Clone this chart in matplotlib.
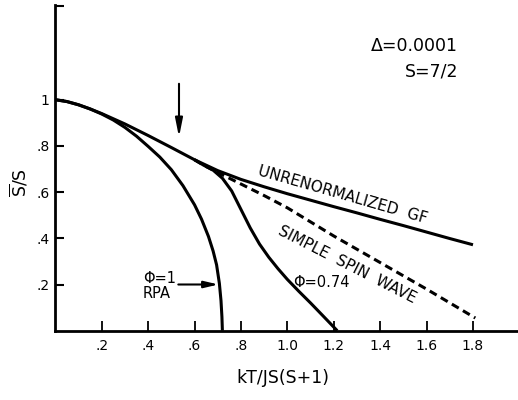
import matplotlib
matplotlib.use("Agg")
import matplotlib.pyplot as plt

# reduced magnetization vs reduced temperature, Delta = 0.0001, S = 7/2
x_gf = [0, 0.05, 0.1, 0.15, 0.2, 0.3, 0.4, 0.5, 0.6, 0.7, 0.8, 0.9, 1.0,
        1.1, 1.2, 1.3, 1.4, 1.5, 1.6, 1.7, 1.8]
y_gf = [1.0, 0.992, 0.978, 0.96, 0.94, 0.895, 0.845, 0.793, 0.74, 0.693, 0.655,
        0.623, 0.593, 0.565, 0.537, 0.51, 0.482, 0.455, 0.427, 0.399, 0.372]

x_rpa = [0, 0.05, 0.1, 0.15, 0.2, 0.25, 0.3, 0.35, 0.4, 0.45, 0.5, 0.55, 0.6,
         0.63, 0.66, 0.68, 0.695, 0.707, 0.714, 0.718, 0.72]
y_rpa = [1.0, 0.992, 0.978, 0.96, 0.938, 0.912, 0.88, 0.842, 0.798, 0.752, 0.697,
         0.628, 0.545, 0.483, 0.408, 0.345, 0.285, 0.205, 0.13, 0.06, 0.0]

x_phi = [0.6, 0.64, 0.68, 0.72, 0.76, 0.80, 0.84, 0.88, 0.92, 0.96, 1.0,
         1.05, 1.1, 1.15, 1.215]
y_phi = [0.74, 0.716, 0.695, 0.66, 0.605, 0.525, 0.445, 0.375, 0.318, 0.268,
         0.222, 0.17, 0.12, 0.068, 0.0]

x_sw = [0.6, 0.64, 0.7, 0.8, 0.9, 1.0, 1.2, 1.4, 1.6, 1.81]
y_sw = [0.74, 0.716, 0.685, 0.635, 0.585, 0.532, 0.41, 0.295, 0.18, 0.055]

xticks = [0.2, 0.4, 0.6, 0.8, 1.0, 1.2, 1.4, 1.6, 1.8]
xlabels = [".2", ".4", ".6", ".8", "1.0", "1.2", "1.4", "1.6", "1.8"]
yticks = [0.2, 0.4, 0.6, 0.8, 1.0, 1.405]
ylabels = [".2", ".4", ".6", ".8", "1", ""]

fig = plt.figure(figsize=(5.18, 4.0), dpi=100)
ax = fig.add_axes([0.1068, 0.17325, 0.8932, 0.81425])
ax.set_xlim(0, 1.994)
ax.set_ylim(0, 1.41)

lw = 2.2
ax.plot(x_gf, y_gf, color="k", lw=lw, solid_capstyle="butt")
ax.plot(x_rpa, y_rpa, color="k", lw=lw, solid_capstyle="butt")
ax.plot(x_phi, y_phi, color="k", lw=lw, solid_capstyle="butt")
ax.plot(x_sw, y_sw, color="k", lw=lw, dashes=(2.6, 1.6))

for side in ("top", "right"):
    ax.spines[side].set_visible(False)
for side in ("left", "bottom"):
    ax.spines[side].set_linewidth(2.0)

ax.set_xticks(xticks)
ax.set_xticklabels(xlabels)
ax.set_yticks(yticks)
ax.set_yticklabels(ylabels)
ax.tick_params(axis="x", direction="in", length=7, width=1.3, pad=6, labelsize=10)
ax.tick_params(axis="y", direction="in", length=6.5, width=1.5, pad=4, labelsize=10)

# arrows
ax.annotate("", xy=(0.533, 0.838), xytext=(0.533, 1.069),
            arrowprops=dict(arrowstyle="-|>,head_length=1.1,head_width=0.22",
                            color="k", lw=1.5, shrinkA=0, shrinkB=0))
ax.annotate("", xy=(0.703, 0.2), xytext=(0.53, 0.2),
            arrowprops=dict(arrowstyle="-|>,head_length=0.85,head_width=0.2",
                            color="k", lw=1.5, shrinkA=0, shrinkB=0))

# curve labels
ax.text(0.378, 0.228, "\u03a6=1", fontsize=10.5, ha="left", va="center")
ax.text(0.378, 0.163, "RPA", fontsize=10.5, ha="left", va="center")
ax.text(1.024, 0.21, "\u03a6=0.74", fontsize=10.5, ha="left", va="center")
ax.text(1.236, 0.586, "UNRENORMALIZED  GF", fontsize=11, rotation=-16,
        ha="center", va="center", rotation_mode="anchor")
ax.text(1.258, 0.284, "SIMPLE  SPIN  WAVE", fontsize=11, rotation=-27,
        ha="center", va="center", rotation_mode="anchor")

ax.text(1.736, 1.232, "\u0394=0.0001", fontsize=12.5, ha="right", va="center")
ax.text(1.736, 1.124, "S=7/2", fontsize=12.5, ha="right", va="center")

fig.text(283 / 518, 1 - 378 / 400, "kT/JS(S+1)", fontsize=12.5,
         ha="center", va="center")
fig.text(19 / 518, 1 - 183 / 400, r"$\overline{\rm S}$/S", fontsize=12.5,
         rotation=90, ha="center", va="center")

fig.savefig("out.png", dpi=100)
